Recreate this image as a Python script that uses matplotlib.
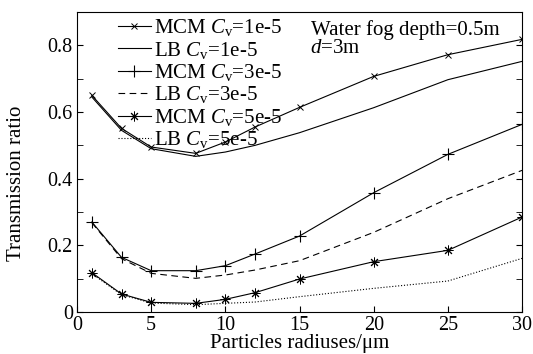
import matplotlib
matplotlib.use("Agg")
import matplotlib.pyplot as plt
from matplotlib.ticker import MultipleLocator

plt.rcParams['font.family'] = ['Liberation Serif', 'DejaVu Serif']
plt.rcParams['mathtext.fontset'] = 'custom'
plt.rcParams['mathtext.rm'] = 'Liberation Serif'
plt.rcParams['mathtext.it'] = 'Liberation Serif:italic'

# particle radius (um)
radius = [1, 3, 5, 8, 10, 12, 15, 20, 25, 30]

mcm_1e5 = [0.650, 0.551, 0.495, 0.476, 0.510, 0.555, 0.614, 0.707, 0.772, 0.818]
lb_1e5 = [0.645, 0.545, 0.490, 0.467, 0.480, 0.500, 0.538, 0.613, 0.697, 0.752]
mcm_3e5 = [0.270, 0.164, 0.124, 0.124, 0.139, 0.174, 0.228, 0.358, 0.473, 0.563]
lb_3e5 = [0.268, 0.160, 0.116, 0.101, 0.111, 0.126, 0.154, 0.239, 0.340, 0.425]
mcm_5e5 = [0.118, 0.054, 0.029, 0.026, 0.038, 0.058, 0.099, 0.151, 0.185, 0.285]
lb_5e5 = [0.115, 0.052, 0.027, 0.022, 0.026, 0.030, 0.046, 0.071, 0.093, 0.161]

fig = plt.figure(figsize=(5.33, 3.54), dpi=100)
ax = fig.add_axes([0.1445, 0.1186, 0.835, 0.8474])

lw = 0.8
fs = 15
ax.plot(radius, mcm_1e5, 'k-', marker='x', ms=4, mew=0.7, lw=lw, label=r'MCM $C_{\mathrm{v}}$=1e-5')
ax.plot(radius, lb_1e5, 'k-', lw=lw, label=r'LB $C_{\mathrm{v}}$=1e-5')
ax.plot(radius, mcm_3e5, 'k-', marker='+', ms=8, mew=0.8, lw=lw, label=r'MCM $C_{\mathrm{v}}$=3e-5')
ax.plot(radius, lb_3e5, 'k--', lw=lw, dashes=(6, 4), label=r'LB $C_{\mathrm{v}}$=3e-5')
ax.plot(radius, mcm_5e5, 'k-', marker=(8, 2, 0), ms=7, mew=0.7, lw=lw, label=r'MCM $C_{\mathrm{v}}$=5e-5')
ax.plot(radius, lb_5e5, 'k:', lw=lw, label=r'LB $C_{\mathrm{v}}$=5e-5')

ax.set_xlim(0, 30)
ax.set_ylim(0, 0.9)
ax.set_xticks([0, 5, 10, 15, 20, 25, 30])
ax.set_yticks([0, 0.2, 0.4, 0.6, 0.8])
ax.set_yticklabels(['0', '0.2', '0.4', '0.6', '0.8'])
ax.yaxis.set_minor_locator(MultipleLocator(0.1))
ax.tick_params(which='both', direction='in', labelsize=14.5, right=True, top=False)
ax.tick_params(which='major', length=4, pad=3)
ax.tick_params(which='minor', length=4)
for s in ax.spines.values():
    s.set_linewidth(0.8)

ax.set_xlabel('Particles radiuses/μm', fontsize=fs, labelpad=-1)
ax.set_ylabel('Transmission ratio', fontsize=fs)
ax.yaxis.set_label_coords(-0.115, 0.43)

ax.text(15.8, 0.845, 'Water fog depth=0.5m', fontsize=fs, ha='left', va='center')
ax.text(15.7, 0.79, r'$d$=3m', fontsize=fs, ha='left', va='center')

ax.legend(loc='upper left', bbox_to_anchor=(0.088, 0.99), frameon=False, fontsize=fs,
          handlelength=1.55, handletextpad=0.15, labelspacing=0.07, borderpad=0.1,
          borderaxespad=0)

fig.savefig('out.png', dpi=100)
